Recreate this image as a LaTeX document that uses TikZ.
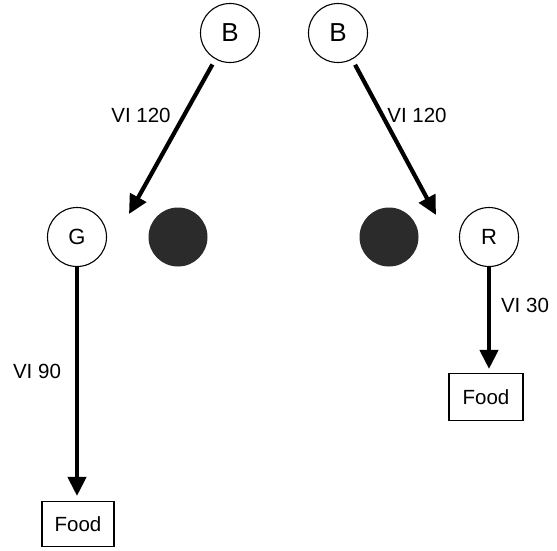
\documentclass[tikz,border=0pt]{standalone}
\usepackage{fontspec}
\setmainfont{Liberation Sans}
\usetikzlibrary{arrows.meta}
\begin{document}
\begin{tikzpicture}[x=1pt,y=-1pt,
  state/.style={circle,draw,line width=1.1pt,minimum size=59pt,inner sep=0pt,font=\fontsize{22}{22}\selectfont},
  bigstate/.style={state,font=\fontsize{26}{26}\selectfont},
  dot/.style={circle,fill=black!83,minimum size=59pt,inner sep=0pt},
  foodbox/.style={draw,line width=1.1pt,inner sep=0pt,font=\fontsize{20.5}{20.5}\selectfont},
  lab/.style={inner sep=0pt,font=\fontsize{20.5}{20.5}\selectfont},
  arr/.style={line width=4.2pt,-{Triangle[length=19pt,width=18pt]}}]
\useasboundingbox (0,0) rectangle (557,550);
\node[bigstate] (B1) at (230,33) {B};
\node[bigstate] (B2) at (338,33) {B};
\node[state] (G) at (77,237) {G};
\node[state] (R) at (489,237) {R};
\node[dot] (D1) at (178,237) {};
\node[dot] (D2) at (389,237) {};
\node[foodbox,minimum width=72pt,minimum height=45pt] (F1) at (78,524) {Food};
\node[foodbox,minimum width=74pt,minimum height=47pt] (F2) at (486,397) {Food};
\coordinate (t1) at (129,214);
\coordinate (t2) at (436,215);
\draw[arr,shorten <=6pt] (B1) -- (t1);
\draw[arr,shorten <=6pt] (B2) -- (t2);
\draw[arr,shorten >=5pt] (G.south) -- (G.south |- F1.north);
\draw[arr,shorten >=4pt] (R.south) -- (R.south |- F2.north);
\node[lab] (L1) at (141,115) {VI 120};
\node[lab] (L2) at (417,115) {VI 120};
\node[lab] (L3) at (37,371) {VI 90};
\node[lab] (L4) at (525,305) {VI 30};
\end{tikzpicture}
\end{document}
